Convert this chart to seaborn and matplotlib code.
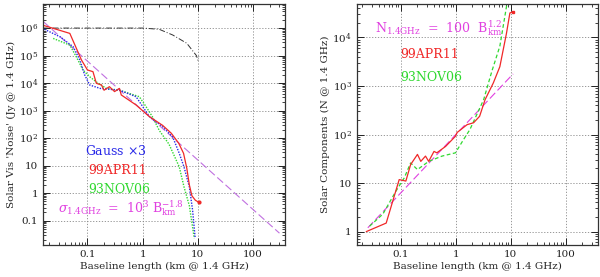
import math
import matplotlib
matplotlib.use('Agg')
import matplotlib.pyplot as plt
import matplotlib.ticker as mticker
import seaborn as sns
import pandas as pd

# left panel: visibility noise vs baseline
red_x = [0.015, 0.048, 0.078, 0.10, 0.126, 0.145, 0.18, 0.2, 0.25, 0.31, 0.38, 0.41, 0.76, 1.33,
         2.3, 3.3, 4.5, 5.5, 6.3, 7.0, 7.8, 9.0, 10.3]
red_y = [1.3e6, 6.4e5, 6.9e4, 3e4, 2.6e4, 9.8e3, 8.5e3, 5.5e3, 7.4e3, 4.9e3, 6.4e3, 3.7e3, 1.6e3, 6e2,
         2.9e2, 1.5e2, 65, 28, 8, 2, 0.8, 0.55, 0.47]
blue_x = [0.015, 0.032, 0.055, 0.073, 0.089, 0.11, 0.17, 0.38, 0.76, 1.33, 2.3, 3.5, 4.6, 5.6, 7.0, 8.0, 8.9]
blue_y = [1e6, 4.8e5, 2.1e5, 6.9e4, 2e4, 8.5e3, 6.4e3, 5.5e3, 3.2e3, 6e2, 2.6e2, 1.1e2, 28, 9, 1.7, 0.25, 0.025]
green_x = [0.024, 0.048, 0.063, 0.083, 0.11, 0.145, 0.22, 0.38, 0.87, 1.15, 1.5, 2.0, 3.0, 4.6, 5.6,
           7.0, 8.6]
green_y = [4.2e5, 2.4e5, 9e4, 3e4, 1.7e4, 1.1e4, 6.4e3, 5.5e3, 3.2e3, 1.4e3, 6e2, 1.9e2, 60, 9, 1.7,
           0.35, 0.023]
gauss_x = [0.015, 0.3, 1.0, 2.0, 3.5, 6.3, 9.4, 10.3]
gauss_y = [1e6, 1e6, 1e6, 9e5, 5.6e5, 2.8e5, 1e5, 5.8e4]
fit_l_x = [0.016, 300]
fit_l_y = [1.7e6, 0.035]

# right panel: number of components vs baseline
red_r_x = [0.0234, 0.054, 0.093, 0.123, 0.15, 0.2, 0.23, 0.28, 0.32, 0.4, 0.45, 0.65, 0.98, 1.05, 1.6,
           2.1, 2.7, 3.4, 4.8, 6.3, 8.3, 9.6, 11]
red_r_y = [1.0, 1.5, 11.8, 11, 24, 39, 28, 36, 28, 45, 42, 57, 92, 110, 160, 175, 238, 525, 1.16e3,
           2.5e3, 1.2e4, 3.2e4, 3.4e4]
green_r_x = [0.027, 0.047, 0.081, 0.115, 0.15, 0.2, 0.32, 0.56, 0.98, 1.38, 1.8, 3.2, 4.5, 6.3, 8.5]
green_r_y = [1.3, 2.3, 6.8, 12.8, 26, 19, 28, 36, 42, 79, 127, 525, 2e3, 6.6e3, 5e4]
fit_r_x = [0.025, 11]
fit_r_y = [1.2, 1780]

RED = '#f02828'
BLUE = '#2828e8'
GREEN = '#30d830'
MAG = '#e040e0'
VIOLET = '#c070e0'

sns.set_theme(style='ticks')
plt.rcParams['font.family'] = ['DejaVu Serif']
plt.rcParams['mathtext.fontset'] = 'dejavuserif'

fig = plt.figure(figsize=(6, 2.77), dpi=100)
ax1 = fig.add_axes([0.0717, 0.1155, 0.4033, 0.8701])
ax2 = fig.add_axes([0.5945, 0.1155, 0.4015, 0.8701])


def draw(ax, x, y, color, ls, lw=0.9):
    df = pd.DataFrame({'x': x, 'y': y})
    sns.lineplot(data=df, x='x', y='y', ax=ax, color=color, linestyle=ls, linewidth=lw,
                 sort=False, estimator=None)


draw(ax1, gauss_x, gauss_y, '#333333', (0, (6, 2, 1, 2)), 0.7)
draw(ax1, fit_l_x, fit_l_y, VIOLET, (0, (7, 3)), 0.8)
draw(ax1, green_x, green_y, GREEN, (0, (1, 1)), 1.0)
draw(ax1, blue_x, blue_y, BLUE, (0, (1, 1)), 1.0)
draw(ax1, red_x, red_y, RED, '-', 0.9)
ax1.plot(red_x[-1], red_y[-1], 'o', color=RED, ms=2)

draw(ax2, fit_r_x, fit_r_y, MAG, (0, (7, 3)), 0.8)
draw(ax2, green_r_x, green_r_y, GREEN, (0, (3, 2)), 0.9)
draw(ax2, red_r_x, red_r_y, RED, '-', 0.9)
ax2.plot(red_r_x[-1], red_r_y[-1], 's', color=RED, ms=2)


def yfmt(v, pos):
    if v >= 100:
        return r'$10^{%d}$' % round(math.log10(v))
    if v >= 1:
        return '%d' % v
    return '%g' % v


def xfmt(v, pos):
    return '%g' % v


for ax in (ax1, ax2):
    ax.set_xscale('log')
    ax.set_yscale('log')
    ax.set_xlim(0.0157, 378)
    ax.xaxis.set_major_locator(mticker.FixedLocator([0.1, 1, 10, 100]))
    ax.xaxis.set_major_formatter(mticker.FuncFormatter(xfmt))
    ax.yaxis.set_major_formatter(mticker.FuncFormatter(yfmt))
    ax.tick_params(which='both', direction='in', top=True, right=True, labelsize=7.5, colors='#222222')
    ax.tick_params(which='major', length=5, width=0.7)
    ax.tick_params(which='minor', length=2.5, width=0.6)
    ax.grid(True, which='major', linestyle=(0, (1.5, 2)), color='#888888', linewidth=0.6)
    for s in ax.spines.values():
        s.set_linewidth(0.9)
        s.set_color('#333333')
    ax.set_xlabel('Baseline length (km @ 1.4 GHz)', fontsize=7.5, labelpad=2)

ax1.set_ylim(0.013, 7.5e6)
ax1.yaxis.set_major_locator(mticker.FixedLocator([0.1, 1, 10, 1e2, 1e3, 1e4, 1e5, 1e6]))
ax1.set_ylabel("Solar Vis 'Noise' (Jy @ 1.4 GHz)", fontsize=7.5, labelpad=2)
ax2.set_ylim(0.53, 4.9e4)
ax2.yaxis.set_major_locator(mticker.FixedLocator([1, 10, 1e2, 1e3, 1e4]))
ax2.set_ylabel('Solar Components (N @ 1.4 GHz)', fontsize=7.5, labelpad=2)

# in-panel labels
ax1.text(0.175, 0.375, r'Gauss $\times$3', transform=ax1.transAxes, color=BLUE, fontsize=9)
ax1.text(0.185, 0.295, '99APR11', transform=ax1.transAxes, color=RED, fontsize=9)
ax1.text(0.185, 0.215, '93NOV06', transform=ax1.transAxes, color=GREEN, fontsize=9)
ax1.text(0.06, 0.135, r'$\sigma_{\rm 1.4GHz}$  =  10$^3$ B$_{\rm km}^{-1.8}$', transform=ax1.transAxes,
         color=MAG, fontsize=9)

ax2.text(0.075, 0.88, r'N$_{\rm 1.4GHz}$  =  100  B$_{\rm km}^{1.2}$', transform=ax2.transAxes,
         color=MAG, fontsize=9)
ax2.text(0.18, 0.775, '99APR11', transform=ax2.transAxes, color=RED, fontsize=9)
ax2.text(0.18, 0.68, '93NOV06', transform=ax2.transAxes, color=GREEN, fontsize=9)

fig.savefig('out.png', dpi=100)
